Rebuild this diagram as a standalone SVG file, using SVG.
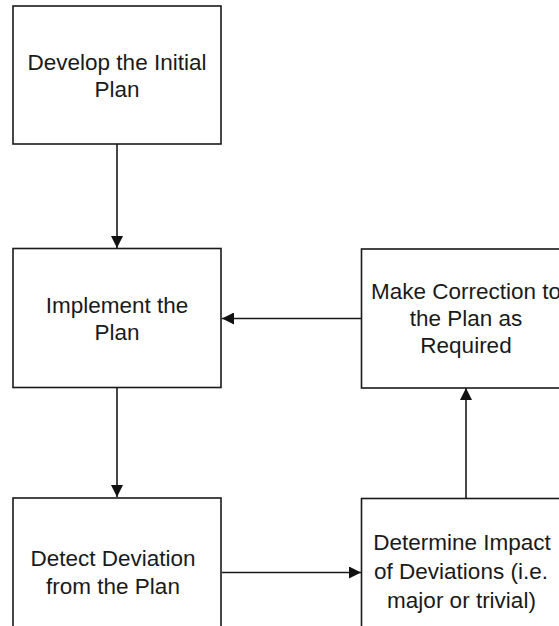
<svg xmlns="http://www.w3.org/2000/svg" width="559" height="626" viewBox="0 0 559 626">
  <style>
    .box { fill: #ffffff; stroke: #1a1a1a; stroke-width: 1.6; }
    .lbl { font-family: "Liberation Sans", Arial, sans-serif; font-size: 22.5px; fill: #1a1a1a; text-anchor: middle; }
    .edge { stroke: #1a1a1a; stroke-width: 1.6; fill: none; marker-end: url(#arrow); }
  </style>
  <defs>
    <marker id="arrow" viewBox="0 0 12 12" refX="12" refY="6" markerWidth="12" markerHeight="12" markerUnits="userSpaceOnUse" orient="auto">
      <path d="M0,0 L12,6 L0,12 Z" fill="#111111"/>
    </marker>
  </defs>
  <rect width="559" height="626" fill="#ffffff"/>

  <g id="connectors">
    <line class="edge" x1="117" y1="144" x2="117" y2="248"/>
    <line class="edge" x1="117" y1="387" x2="117" y2="497"/>
    <line class="edge" x1="222" y1="572.5" x2="361" y2="572.5"/>
    <line class="edge" x1="466" y1="498" x2="466" y2="388"/>
    <line class="edge" x1="361" y1="318.5" x2="222" y2="318.5"/>
  </g>

  <g id="develop">
    <rect class="box" x="13" y="6" width="208" height="138"/>
    <text class="lbl" x="117" y="70">Develop the Initial</text>
    <text class="lbl" x="117" y="96.5">Plan</text>
  </g>

  <g id="implement">
    <rect class="box" x="13" y="248.5" width="208" height="139"/>
    <text class="lbl" x="117" y="313">Implement the</text>
    <text class="lbl" x="117" y="339.5">Plan</text>
  </g>

  <g id="correct">
    <rect class="box" x="361.5" y="249" width="210" height="139"/>
    <text class="lbl" x="466" y="299">Make Correction to</text>
    <text class="lbl" x="466" y="326">the Plan as</text>
    <text class="lbl" x="466" y="353">Required</text>
  </g>

  <g id="detect">
    <rect class="box" x="13" y="498" width="208" height="139"/>
    <text class="lbl" x="113" y="566">Detect Deviation</text>
    <text class="lbl" x="113" y="594">from the Plan</text>
  </g>

  <g id="impact">
    <rect class="box" x="361.5" y="498.5" width="210" height="139"/>
    <text class="lbl" x="462" y="550">Determine Impact</text>
    <text class="lbl" x="461" y="579">of Deviations (i.e.</text>
    <text class="lbl" x="461.5" y="607.5">major or trivial)</text>
  </g>
</svg>
